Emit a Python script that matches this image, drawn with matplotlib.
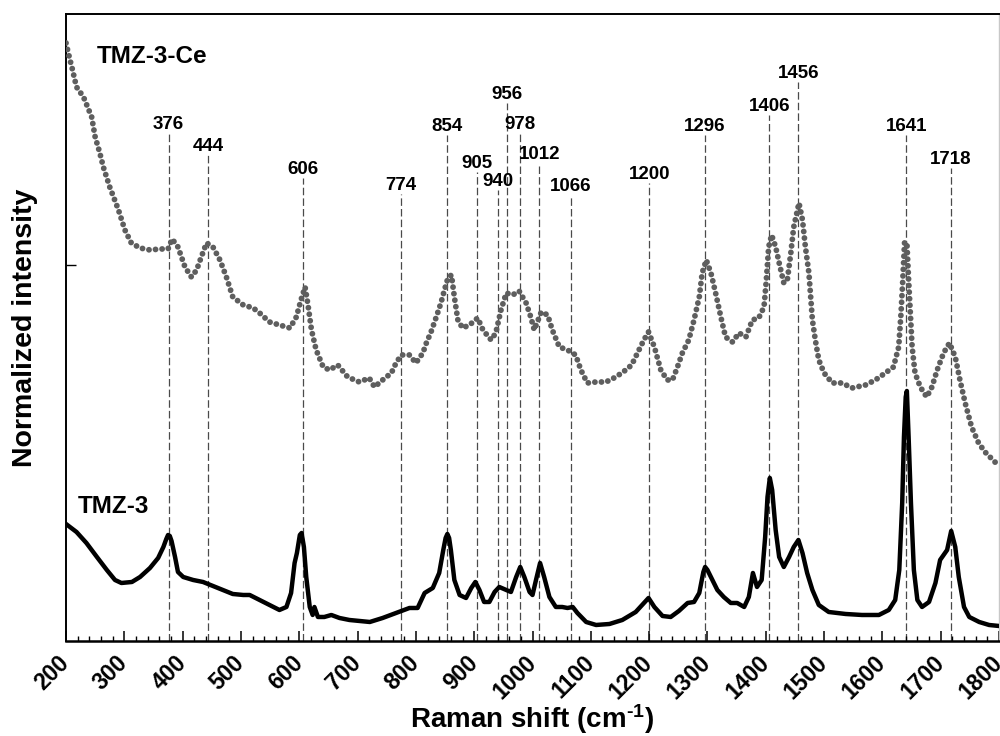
import matplotlib

matplotlib.use("Agg")

import matplotlib.pyplot as plt
from matplotlib.ticker import MultipleLocator, NullFormatter


# Raman spectrum of TMZ-3-Ce (dotted, offset upwards)
ce_shift = [
    200, 206, 210, 218, 230, 244, 250, 258, 264, 275, 290, 301, 312, 327,
    344, 361, 375, 382, 392, 404, 415, 424, 432, 441, 452, 464, 475, 486,
    504, 521, 532, 549, 566, 584, 595, 603, 610, 615, 621, 629, 641, 652,
    666, 683, 703, 720, 729, 743, 758, 766, 775, 789, 800, 812, 818, 826,
    835, 843, 849, 855, 861, 866, 872, 880, 892, 906, 915, 929, 937, 946,
    955, 966, 977, 989, 997, 1003, 1015, 1026, 1034, 1046, 1060, 1074,
    1083, 1094, 1109, 1126, 1143, 1160, 1170, 1180, 1191, 1199, 1209,
    1220, 1231, 1240, 1248, 1257, 1268, 1277, 1286, 1291, 1298, 1306,
    1314, 1323, 1331, 1343, 1354, 1366, 1377, 1388, 1397, 1401, 1405,
    1410, 1417, 1423, 1431, 1437, 1443, 1448, 1457, 1463, 1468, 1474,
    1477, 1480, 1485, 1491, 1500, 1514, 1531, 1548, 1571, 1588, 1605,
    1619, 1628, 1632, 1635, 1638, 1642, 1645, 1648, 1651, 1656, 1665,
    1676, 1685, 1694, 1705, 1715, 1725, 1733, 1742, 1753, 1765, 1776,
    1793, 1800,
]
ce_intensity = [
    5.98, 5.83, 5.74, 5.54, 5.44, 5.24, 5.04, 4.88, 4.74, 4.54, 4.31, 4.11,
    3.98, 3.93, 3.91, 3.92, 3.92, 4.02, 3.94, 3.74, 3.64, 3.71, 3.84, 3.98,
    3.94, 3.81, 3.64, 3.44, 3.36, 3.33, 3.28, 3.19, 3.16, 3.13, 3.24, 3.41,
    3.54, 3.36, 3.11, 2.91, 2.74, 2.71, 2.76, 2.64, 2.59, 2.63, 2.54, 2.61,
    2.68, 2.78, 2.86, 2.86, 2.78, 2.88, 2.98, 3.09, 3.24, 3.38, 3.51, 3.63,
    3.66, 3.44, 3.21, 3.13, 3.16, 3.23, 3.11, 3.01, 3.08, 3.31, 3.48, 3.46,
    3.50, 3.38, 3.24, 3.11, 3.29, 3.26, 3.11, 2.94, 2.91, 2.86, 2.71, 2.58,
    2.59, 2.59, 2.64, 2.71, 2.76, 2.88, 3.01, 3.09, 2.94, 2.71, 2.61, 2.61,
    2.73, 2.88, 3.01, 3.21, 3.44, 3.68, 3.81, 3.68, 3.48, 3.24, 3.04, 2.99,
    3.08, 3.04, 3.21, 3.23, 3.34, 3.61, 3.94, 4.06, 3.94, 3.78, 3.58, 3.61,
    3.88, 4.14, 4.38, 4.21, 3.94, 3.68, 3.44, 3.21, 3.01, 2.81, 2.68, 2.58,
    2.58, 2.53, 2.56, 2.61, 2.68, 2.74, 2.94, 3.28, 3.61, 3.98, 3.99, 3.61,
    3.28, 2.94, 2.68, 2.54, 2.44, 2.54, 2.71, 2.88, 2.98, 2.84, 2.61, 2.38,
    2.14, 1.98, 1.89, 1.79, 1.76,
]

# Raman spectrum of TMZ-3 (solid line)
tmz_shift = [
    200, 218, 235, 253, 270, 284, 295, 313, 327, 344, 358, 367, 372, 375,
    378, 381, 387, 392, 401, 418, 435, 452, 469, 486, 504, 515, 532, 549,
    566, 578, 586, 592, 596, 601, 604, 608, 612, 618, 623, 626, 632, 643,
    655, 669, 686, 703, 721, 743, 766, 789, 803, 815, 829, 840, 847, 851,
    854, 857, 860, 866, 875, 886, 895, 902, 909, 917, 926, 935, 943, 955,
    963, 972, 979, 986, 995, 1000, 1006, 1013, 1020, 1029, 1040, 1051,
    1060, 1069, 1077, 1092, 1109, 1132, 1154, 1177, 1191, 1199, 1209,
    1223, 1237, 1251, 1266, 1277, 1286, 1293, 1296, 1300, 1306, 1317,
    1328, 1340, 1351, 1363, 1371, 1378, 1385, 1393, 1399, 1403, 1407,
    1411, 1417, 1423, 1431, 1440, 1448, 1456, 1463, 1471, 1480, 1491,
    1508, 1537, 1565, 1594, 1611, 1622, 1629, 1634, 1637, 1640, 1642,
    1645, 1649, 1654, 1660, 1668, 1680, 1691, 1699, 1711, 1718, 1725,
    1731, 1740, 1749, 1766, 1783, 1800,
]
tmz_intensity = [
    1.17, 1.09, 0.98, 0.84, 0.71, 0.61, 0.58, 0.59, 0.64, 0.73, 0.83, 0.94,
    1.02, 1.06, 1.05, 1.00, 0.84, 0.69, 0.64, 0.61, 0.59, 0.55, 0.51, 0.47,
    0.46, 0.46, 0.41, 0.36, 0.31, 0.34, 0.48, 0.78, 0.88, 1.06, 1.08, 0.94,
    0.64, 0.34, 0.26, 0.34, 0.24, 0.24, 0.26, 0.23, 0.21, 0.20, 0.19, 0.23,
    0.28, 0.33, 0.33, 0.48, 0.53, 0.68, 0.91, 1.03, 1.07, 1.03, 0.91, 0.61,
    0.46, 0.43, 0.53, 0.59, 0.51, 0.39, 0.39, 0.49, 0.54, 0.51, 0.49, 0.64,
    0.74, 0.64, 0.49, 0.46, 0.61, 0.78, 0.64, 0.44, 0.34, 0.34, 0.33, 0.34,
    0.28, 0.19, 0.16, 0.17, 0.21, 0.29, 0.38, 0.43, 0.34, 0.25, 0.24, 0.30,
    0.38, 0.39, 0.48, 0.69, 0.74, 0.71, 0.64, 0.51, 0.44, 0.38, 0.38, 0.34,
    0.44, 0.68, 0.54, 0.61, 1.04, 1.44, 1.63, 1.51, 1.11, 0.84, 0.74, 0.84,
    0.94, 1.01, 0.88, 0.68, 0.51, 0.36, 0.29, 0.27, 0.26, 0.26, 0.31, 0.41,
    0.71, 1.38, 2.04, 2.44, 2.50, 2.04, 1.38, 0.71, 0.41, 0.34, 0.39, 0.58,
    0.81, 0.91, 1.10, 0.94, 0.64, 0.34, 0.24, 0.19, 0.16, 0.15,
]

# Assigned band positions and the height where each marker line ends
band_positions = [
    376, 444, 606, 774, 854, 905, 940, 956, 978, 1012, 1066, 1200, 1296,
    1406, 1456, 1641, 1718,
]
band_tops = [
    5.08, 4.86, 4.63, 4.47, 5.06, 4.69, 4.51, 5.38, 5.08, 4.78, 4.46, 4.58,
    5.06, 5.26, 5.59, 5.06, 4.73,
]

FONT = "Liberation Sans"

plt.rcParams["font.family"] = [FONT, "DejaVu Sans"]
plt.rcParams["font.weight"] = "bold"
plt.rcParams["mathtext.fontset"] = "custom"
plt.rcParams["mathtext.rm"] = f"{FONT}:bold"
plt.rcParams["mathtext.bf"] = f"{FONT}:bold"
plt.rcParams["mathtext.default"] = "bf"

fig = plt.figure(figsize=(10, 7.36), dpi=100)
ax = fig.add_axes([0.066, 0.1291, 0.933, 0.8519])

ax.vlines(
    band_positions,
    0,
    band_tops,
    colors="#4a4a4a",
    linewidth=0.9,
    linestyles=(0, (6, 2.5)),
    zorder=1,
)

for position, top in zip(band_positions, band_tops):
    ax.text(
        position,
        top + 0.04,
        str(position),
        ha="center",
        va="baseline",
        fontsize=13.5,
        fontweight="bold",
    )

ax.plot(
    ce_shift,
    ce_intensity,
    color="#5e5e5e",
    linewidth=4.2,
    linestyle=(0, (0.01, 1.12)),
    dash_capstyle="round",
    zorder=3,
)
ax.plot(
    tmz_shift,
    tmz_intensity,
    color="black",
    linewidth=3.2,
    solid_joinstyle="round",
    zorder=3,
)

ax.text(253, 5.84, "TMZ-3-Ce", fontsize=17.5, fontweight="bold", va="center")
ax.text(220.5, 1.34, "TMZ-3", fontsize=17.5, fontweight="bold", va="center")

ax.set_xlim(200, 1800)
ax.set_ylim(0, 6.27)

ax.xaxis.set_major_locator(MultipleLocator(100))
ax.xaxis.set_minor_locator(MultipleLocator(20))
ax.set_yticks([3.76])
ax.yaxis.set_major_formatter(NullFormatter())

ax.tick_params(axis="x", which="major", direction="in", length=7.5,
               width=1.1, labelsize=16.5, pad=13)
ax.tick_params(axis="x", which="minor", direction="in", length=3.8,
               width=1.0)
ax.tick_params(axis="y", which="major", direction="in", length=7.5,
               width=1.0)

for label in ax.get_xticklabels():
    label.set_rotation(45)
    label.set_ha("right")
    label.set_va("center")
    label.set_rotation_mode("anchor")
    label.set_fontweight("bold")

ax.set_xlabel(r"Raman shift (cm$^{\text{-1}}$)", fontsize=20,
              fontweight="bold")
ax.xaxis.set_label_coords(0.5, -0.125)
ax.xaxis.label.set_va("center")

ax.set_ylabel("Normalized intensity", fontsize=20.5, fontweight="bold")
ax.yaxis.set_label_coords(-0.0439, 0.5)
ax.yaxis.label.set_va("center")

ax.spines["left"].set_linewidth(1.4)
ax.spines["bottom"].set_linewidth(1.8)
ax.spines["top"].set_linewidth(1.4)
ax.spines["right"].set_linewidth(1.0)
ax.spines["right"].set_color("#c8c8c8")

fig.savefig("out.png", dpi=100)
